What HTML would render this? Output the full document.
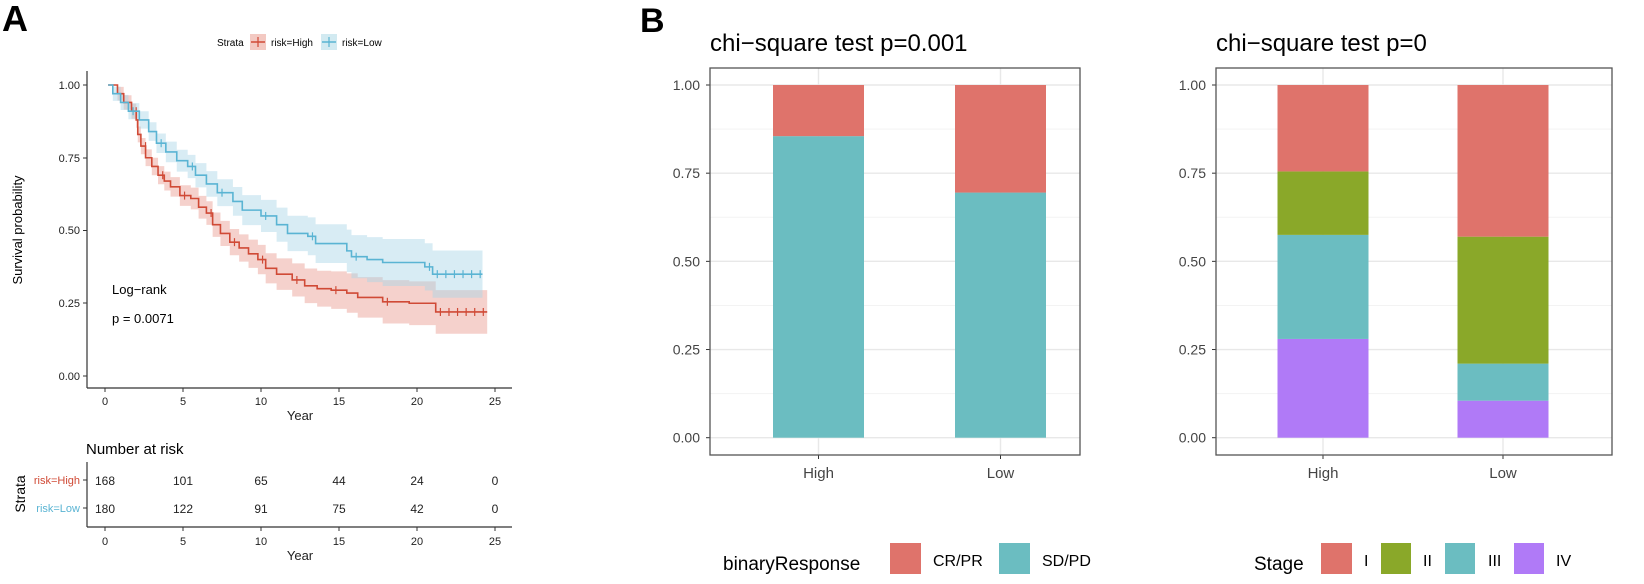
<!DOCTYPE html>
<html><head><meta charset="utf-8"><style>
html,body{margin:0;padding:0;background:#fff;}
svg{display:block;font-family:"Liberation Sans",sans-serif;}
</style></head><body>
<svg id="s" width="1644" height="584" viewBox="0 0 1644 584" xmlns="http://www.w3.org/2000/svg">
<rect width="1644" height="584" fill="#fff"/>
<text x="2" y="31" font-size="36" font-weight="bold">A</text>
<text x="640" y="32" font-size="34" font-weight="bold">B</text>
<!-- KM legend -->
<text x="217" y="46" font-size="10">Strata</text>
<rect x="250" y="34" width="16" height="16" fill="#f3c9c2"/><line x1="251" y1="42" x2="265" y2="42" stroke="#d04a36" stroke-width="1.5"/><line x1="258" y1="37" x2="258" y2="47" stroke="#d04a36" stroke-width="1.2"/>
<text x="271" y="46" font-size="10">risk=High</text>
<rect x="321" y="34" width="16" height="16" fill="#d2eaf1"/><line x1="322" y1="42" x2="336" y2="42" stroke="#5ab4d3" stroke-width="1.5"/><line x1="329" y1="37" x2="329" y2="47" stroke="#5ab4d3" stroke-width="1.2"/>
<text x="342" y="46" font-size="10">risk=Low</text>
<g id="km"></g>
<!-- KM axes -->
<line x1="87" y1="71" x2="87" y2="388" stroke="#333" stroke-width="1.2"/>
<line x1="87" y1="388" x2="512" y2="388" stroke="#333" stroke-width="1.2"/>
<g font-size="11" fill="#222" text-anchor="end">
<text x="80" y="89">1.00</text><text x="80" y="162">0.75</text><text x="80" y="234">0.50</text><text x="80" y="307">0.25</text><text x="80" y="380">0.00</text>
</g>
<g stroke="#333"><line x1="83" y1="85" x2="87" y2="85"/><line x1="83" y1="158" x2="87" y2="158"/><line x1="83" y1="230.5" x2="87" y2="230.5"/><line x1="83" y1="303" x2="87" y2="303"/><line x1="83" y1="376" x2="87" y2="376"/></g>
<g font-size="11" fill="#222" text-anchor="middle">
<text x="105" y="405">0</text><text x="183" y="405">5</text><text x="261" y="405">10</text><text x="339" y="405">15</text><text x="417" y="405">20</text><text x="495" y="405">25</text>
<text x="300" y="420" font-size="13">Year</text>
</g>
<g stroke="#333"><line x1="105" y1="388" x2="105" y2="392"/><line x1="183" y1="388" x2="183" y2="392"/><line x1="261" y1="388" x2="261" y2="392"/><line x1="339" y1="388" x2="339" y2="392"/><line x1="417" y1="388" x2="417" y2="392"/><line x1="495" y1="388" x2="495" y2="392"/></g>
<text transform="translate(22,230) rotate(-90)" font-size="13" text-anchor="middle">Survival probability</text>
<text x="112" y="294" font-size="13">Log−rank</text>
<text x="112" y="323" font-size="13">p = 0.0071</text>
<!-- risk table -->
<text x="86" y="454" font-size="15">Number at risk</text>
<line x1="87" y1="462" x2="87" y2="527" stroke="#333" stroke-width="1.2"/>
<line x1="87" y1="527" x2="512" y2="527" stroke="#333" stroke-width="1.2"/>
<text transform="translate(25,494) rotate(-90)" font-size="14" text-anchor="middle">Strata</text>
<text x="80" y="484" font-size="11" fill="#d04a36" text-anchor="end">risk=High</text>
<text x="80" y="512" font-size="11" fill="#5ab4d3" text-anchor="end">risk=Low</text>
<g stroke="#333"><line x1="83" y1="480" x2="87" y2="480"/><line x1="83" y1="508" x2="87" y2="508"/></g>
<g font-size="12" fill="#222" text-anchor="middle">
<text x="105" y="485">168</text><text x="183" y="485">101</text><text x="261" y="485">65</text><text x="339" y="485">44</text><text x="417" y="485">24</text><text x="495" y="485">0</text>
<text x="105" y="513">180</text><text x="183" y="513">122</text><text x="261" y="513">91</text><text x="339" y="513">75</text><text x="417" y="513">42</text><text x="495" y="513">0</text>
</g>
<g font-size="11" fill="#222" text-anchor="middle">
<text x="105" y="545">0</text><text x="183" y="545">5</text><text x="261" y="545">10</text><text x="339" y="545">15</text><text x="417" y="545">20</text><text x="495" y="545">25</text>
<text x="300" y="560" font-size="13">Year</text>
</g>
<g stroke="#333"><line x1="105" y1="527" x2="105" y2="531"/><line x1="183" y1="527" x2="183" y2="531"/><line x1="261" y1="527" x2="261" y2="531"/><line x1="339" y1="527" x2="339" y2="531"/><line x1="417" y1="527" x2="417" y2="531"/><line x1="495" y1="527" x2="495" y2="531"/></g>

<text x="710" y="51" font-size="24">chi−square test p=0.001</text>
<g id="bp1"></g>
<text x="1216" y="51" font-size="24">chi−square test p=0</text>
<g id="bp2"></g>

<text x="723" y="570" font-size="19">binaryResponse</text>
<rect x="890" y="543" width="31" height="31" fill="#df736b"/><text x="933" y="566" font-size="16">CR/PR</text>
<rect x="999" y="543" width="31" height="31" fill="#6bbdc1"/><text x="1042" y="566" font-size="16">SD/PD</text>
<text x="1254" y="570" font-size="19">Stage</text>
<rect x="1321" y="543" width="31" height="31" fill="#df736b"/><text x="1364" y="566" font-size="16">I</text>
<rect x="1381" y="543" width="30" height="31" fill="#8aa829"/><text x="1423" y="566" font-size="16">II</text>
<rect x="1445" y="543" width="30" height="31" fill="#6bbdc1"/><text x="1488" y="566" font-size="16">III</text>
<rect x="1514" y="543" width="30" height="31" fill="#b07af7"/><text x="1556" y="566" font-size="16">IV</text>
</svg>
<script>
var NS="http://www.w3.org/2000/svg";
function el(p,n,a){var e=document.createElementNS(NS,n);for(var k in a)e.setAttribute(k,a[k]);p.appendChild(e);return e;}
function X(t){return 105+15.6*t;} function Y(s){return 376-291*s;}
var hi=[[0.2,1],[0.8,0.97],[1.2,0.94],[1.7,0.91],[2.0,0.88],[2.1,0.83],[2.3,0.79],[2.6,0.75],[3.0,0.72],[3.4,0.69],[3.8,0.67],[4.2,0.65],[4.8,0.62],[5.5,0.61],[6.0,0.58],[6.5,0.56],[6.9,0.52],[7.4,0.49],[8.0,0.46],[8.6,0.44],[9.2,0.42],[9.8,0.40],[10.3,0.37],[11.0,0.35],[12.0,0.33],[12.8,0.31],[13.6,0.30],[14.5,0.295],[15.5,0.285],[16.2,0.27],[17.8,0.255],[19.5,0.25],[21.2,0.22],[24.5,0.22]];
var lo=[[0.2,1],[0.5,0.97],[1.0,0.94],[1.5,0.91],[2.2,0.88],[2.8,0.84],[3.3,0.80],[3.9,0.77],[4.6,0.74],[5.3,0.72],[5.8,0.69],[6.5,0.66],[7.2,0.63],[8.2,0.60],[8.8,0.57],[10.0,0.55],[11.0,0.52],[11.7,0.49],[13.0,0.48],[13.5,0.455],[15.5,0.43],[15.8,0.41],[16.8,0.40],[17.8,0.39],[20.5,0.375],[21.0,0.35],[24.2,0.35]];
function stepPts(d,off){var p=[];for(var i=0;i<d.length;i++){var t=d[i][0];var f=i==0?0:Math.min(1.25,0.35+t*0.05);var s=Math.min(1,Math.max(0,d[i][1]+off*f));if(i>0)p.push([X(t),p[p.length-1][1]]);p.push([X(t),Y(s)]);}return p;}
function band(d,w,fill){var up=stepPts(d,w),dn=stepPts(d,-w).reverse();var s="M"+up.map(function(q){return q.join(",")}).join("L")+"L"+dn.map(function(q){return q.join(",")}).join("L")+"Z";el(document.getElementById("km"),"path",{d:s,fill:fill,"fill-opacity":"0.45"});}
function line(d,c){var p=stepPts(d,0);var g=document.getElementById("km");el(g,"path",{d:"M"+p.map(function(q){return q.join(",")}).join("L"),fill:"none",stroke:c,"stroke-width":"1.6"});
for(var i=3;i<d.length-2;i+=3){var x=X(d[i][0]+0.3),y=Y(d[i][1]);el(g,"line",{x1:x,y1:y-4,x2:x,y2:y+4,stroke:c,"stroke-width":"1.2"});}
var t0=d[d.length-2][0],t1=d[d.length-1][0];for(var t=t0+0.3;t<=t1;t+=0.55){var x=X(t),y=Y(d[d.length-1][1]);el(g,"line",{x1:x,y1:y-4,x2:x,y2:y+4,stroke:c,"stroke-width":"1.2"});}}
band(hi,0.06,"#e8998e");band(lo,0.065,"#a9d5e6");
line(hi,"#d04a36");line(lo,"#5ab4d3");
function bar(id,L,R,c1,c2,stacks){var g=document.getElementById(id);var T=68,B=455;function Yb(v){return 437.7-352.7*v;}
el(g,"rect",{x:L,y:T,width:R-L,height:B-T,fill:"#fff"});
[0.125,0.375,0.625,0.875].forEach(function(v){el(g,"line",{x1:L,x2:R,y1:Yb(v),y2:Yb(v),stroke:"#f3f3f3","stroke-width":"1"});});
[0,0.25,0.5,0.75,1].forEach(function(v){el(g,"line",{x1:L,x2:R,y1:Yb(v),y2:Yb(v),stroke:"#e8e8e8","stroke-width":"1.4"});
var t=el(g,"text",{x:L-10,y:Yb(v)+5,"font-size":"14",fill:"#444","text-anchor":"end"});t.textContent=v.toFixed(2);
el(g,"line",{x1:L-4,x2:L,y1:Yb(v),y2:Yb(v),stroke:"#333"});});
[c1,c2].forEach(function(c){el(g,"line",{x1:c,x2:c,y1:T,y2:B,stroke:"#e8e8e8","stroke-width":"1.4"});el(g,"line",{x1:c,x2:c,y1:B,y2:B+4,stroke:"#333"});});
stacks.forEach(function(st,i){var c=[c1,c2][i];var acc=0;st.forEach(function(s){el(g,"rect",{x:c-45.5,y:Yb(acc+s[0]),width:91,height:352.7*s[0],fill:s[1]});acc+=s[0];});});
el(g,"rect",{x:L,y:T,width:R-L,height:B-T,fill:"none",stroke:"#555","stroke-width":"1.3"});
var a=el(g,"text",{x:c1,y:478,"font-size":"15",fill:"#444","text-anchor":"middle"});a.textContent="High";
var b=el(g,"text",{x:c2,y:478,"font-size":"15",fill:"#444","text-anchor":"middle"});b.textContent="Low";}
var R="#df736b",G="#8aa829",C="#6bbdc1",P="#b07af7";
bar("bp1",710,1080,818.5,1000.5,[[[0.855,C],[0.145,R]],[[0.695,C],[0.305,R]]]);
bar("bp2",1216,1612,1323,1503,[[[0.28,P],[0.295,C],[0.18,G],[0.245,R]],[[0.105,P],[0.105,C],[0.36,G],[0.43,R]]]);
</script>
</body></html>
